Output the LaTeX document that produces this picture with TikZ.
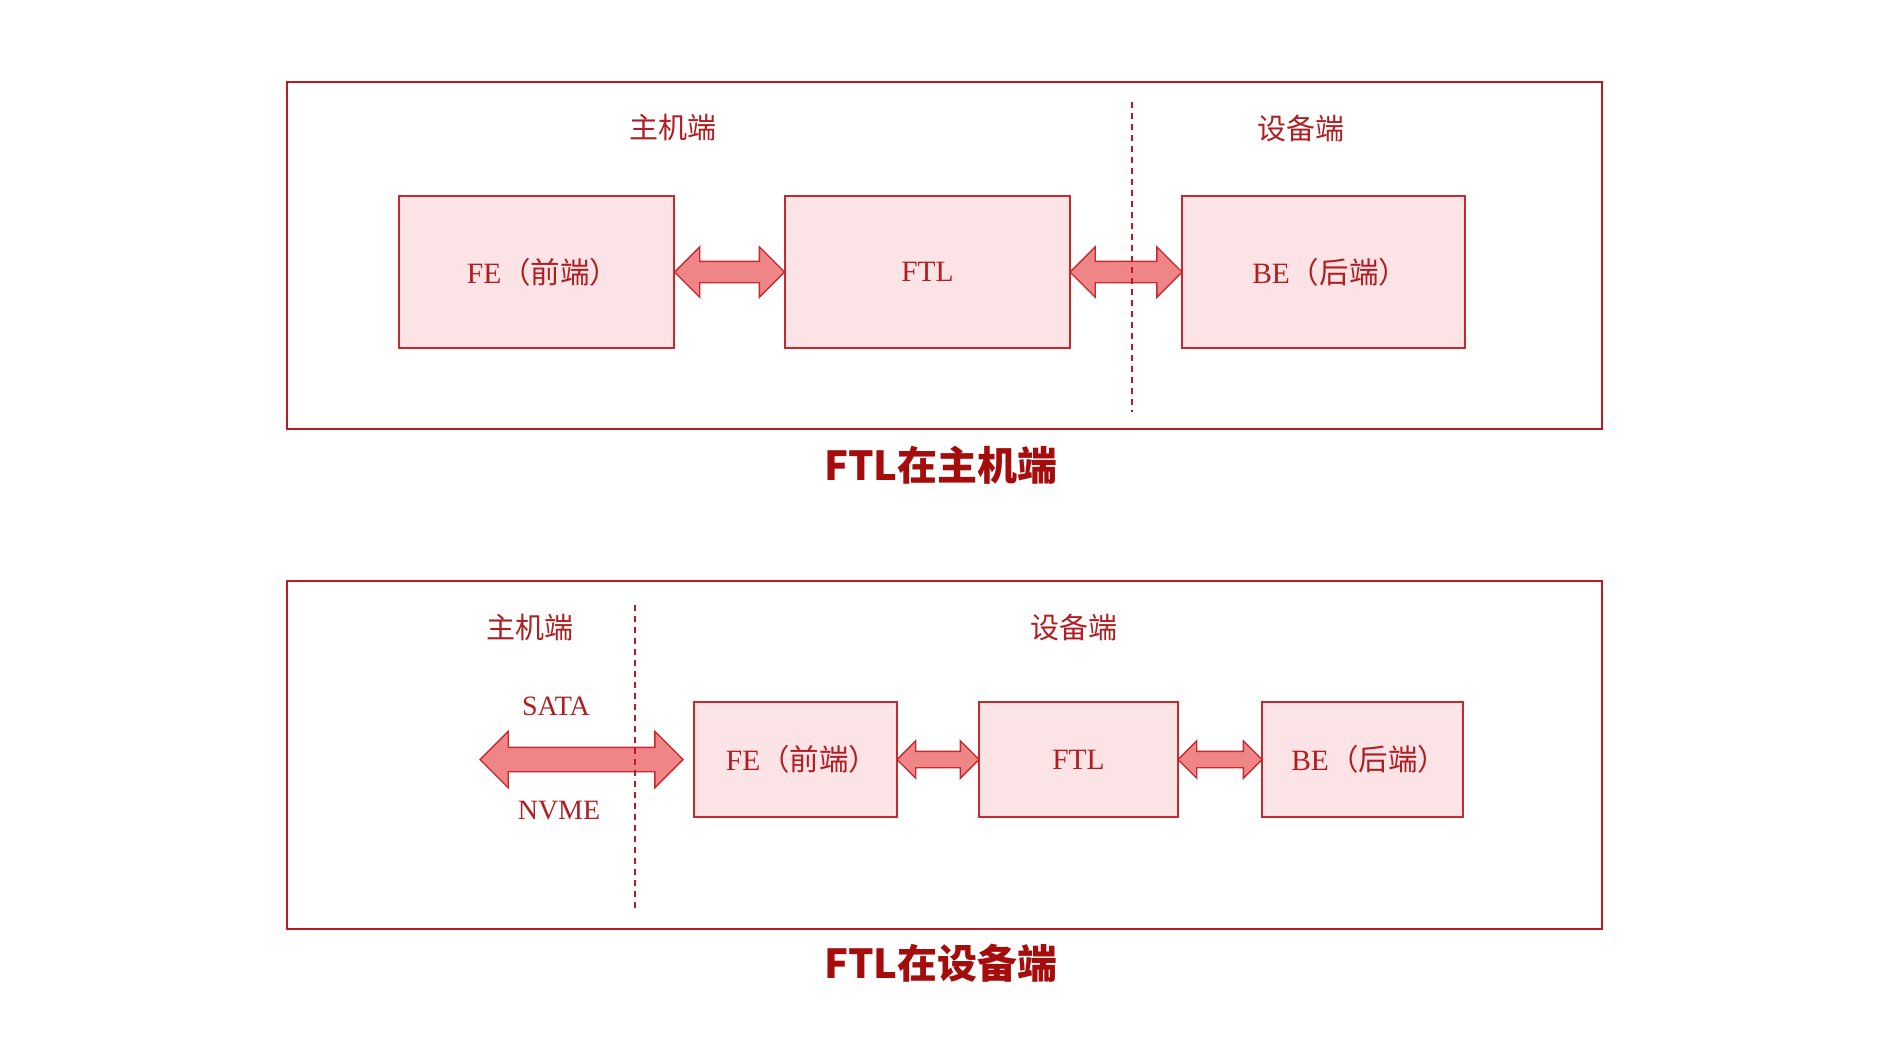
\documentclass[tikz,border=0pt]{standalone}
\usepackage{fontspec}
\setmainfont{Liberation Serif}
\newfontfamily\cjk{Noto Sans CJK SC}
\usetikzlibrary{shapes.arrows,calc}
\definecolor{frameR}{HTML}{B81C22}
\definecolor{boxR}{HTML}{C42A2E}
\definecolor{boxF}{HTML}{FCE3E5}
\definecolor{arrF}{HTML}{EF8587}
\definecolor{txtR}{HTML}{B01E22}
\definecolor{ttlR}{HTML}{A50D0D}
\tikzset{
  frame/.style={draw=frameR, line width=1.6bp},
  blk/.style={draw=boxR, fill=boxF, line width=1.6bp, inner sep=0pt, text=txtR, font=\fontsize{29.5bp}{32bp}\selectfont},
  lbl/.style={text=txtR, font=\fontsize{29bp}{32bp}\selectfont\cjk, inner sep=0pt},
  ltxt/.style={text=txtR, font=\fontsize{28bp}{30bp}\selectfont, inner sep=0pt},
  ttl/.style={text=ttlR, font=\fontsize{40bp}{44bp}\selectfont\cjk\bfseries, inner sep=0pt},
  sep/.style={draw=frameR, dashed, dash pattern=on 6bp off 5bp, line width=1.4bp},
  dbl/.style={draw=boxR, fill=arrF, line width=1.4bp, double arrow, inner xsep=0pt, outer sep=0pt, text height=0pt, text depth=0pt, text width=0pt},
}
\begin{document}
\begin{tikzpicture}[x=1bp,y=-1bp]
\useasboundingbox[fill=white] (0,0) rectangle (1890,1063);
% ---------- top panel ----------
\node[frame, minimum width=1315bp, minimum height=347bp, inner sep=0pt] (f1) at (944.5,255.5) {};
\node[lbl] (h1) at (673,128) {主机端};
\node[lbl] (d1) at (1301,128) {设备端};
\node[blk, minimum width=275bp, minimum height=152bp] (fe1) at (536.5,272) {FE{\cjk（前端）}\kern-0.45em};
\node[blk, minimum width=285bp, minimum height=152bp] (ftl1) at (927.5,272) {FTL};
\node[blk, minimum width=283bp, minimum height=152bp] (be1) at (1323.5,272) {BE{\cjk（后端）}\kern-0.45em};
\coordinate (s1a) at (1132,102);
\coordinate (s1b) at (1132,412);
\node[dbl, minimum height=110bp, inner ysep=10bp, double arrow head extend=14.5bp] (a1) at ($(fe1.east)!0.5!(ftl1.west)$) {};
\node[dbl, minimum height=112bp, inner ysep=10bp, double arrow head extend=14.5bp] (a2) at ($(ftl1.east)!0.5!(be1.west)$) {};
\draw[sep] (s1a) -- (s1b);
\node[ttl] (t1) at (941,465) {FTL在主机端};
% ---------- bottom panel ----------
\node[frame, minimum width=1315bp, minimum height=348bp, inner sep=0pt] (f2) at (944.5,755) {};
\node[lbl] (h2) at (530,627) {主机端};
\node[lbl] (d2) at (1074,627) {设备端};
\node[blk, minimum width=203bp, minimum height=115bp] (fe2) at (795.5,759.5) {FE{\cjk（前端）}\kern-0.45em};
\node[blk, minimum width=199bp, minimum height=115bp] (ftl2) at (1078.5,759.5) {FTL};
\node[blk, minimum width=201bp, minimum height=115bp] (be2) at (1362.5,759.5) {BE{\cjk（后端）}\kern-0.45em};
\coordinate (s2a) at (635,605);
\coordinate (s2b) at (635,908);
\node[dbl, minimum height=203bp, inner ysep=11.5bp, double arrow head extend=16bp] (a0) at (581.5,759.5) {};
\node[ltxt] (sata) at (556,706) {SATA};
\node[ltxt] (nvme) at (559,811) {NVME};
\node[dbl, minimum height=82bp, inner ysep=7.5bp, double arrow head extend=10.5bp] (a3) at ($(fe2.east)!0.5!(ftl2.west)$) {};
\node[dbl, minimum height=84bp, inner ysep=7.5bp, double arrow head extend=10.5bp] (a4) at ($(ftl2.east)!0.5!(be2.west)$) {};
\draw[sep] (s2a) -- (s2b);
\node[ttl] (t2) at (941,963) {FTL在设备端};
\end{tikzpicture}
\end{document}
